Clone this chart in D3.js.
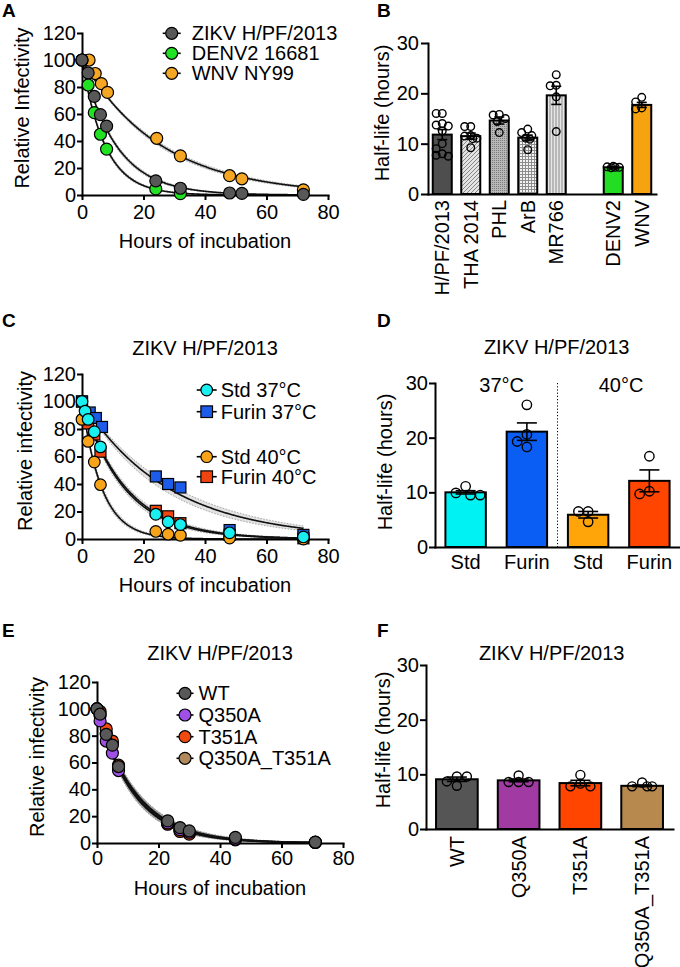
<!DOCTYPE html>
<html><head><meta charset="utf-8">
<script src="https://cdn.jsdelivr.net/npm/d3@7"></script>
<style>body{margin:0;background:#fff}</style>
</head><body>
<svg id="chart" width="680" height="967"></svg>
<script>
// ---------------- DATA ----------------
// Panel A
const seriesA = ["ZIKV H/PF/2013", "DENV2 16681", "WNV NY99"];
const hoursA_zikv = [0, 2, 4, 6, 8, 24, 32, 48, 52, 72];
const infA_zikv   = [100, 90.5, 73, 59.5, 51, 10.5, 5, 1.5, 1.2, 0.5];
const hoursA_denv = [0, 2, 4, 6, 8, 24, 32];
const infA_denv   = [100, 81.5, 61, 45, 34, 4.5, 1];
const hoursA_wnv  = [0, 2.3, 4.3, 6.3, 8.3, 24.3, 32, 48, 52, 72];
const infA_wnv    = [100, 100, 90, 82.5, 76, 42, 29, 14.3, 12, 3.8];
const halfA = [7.7, 5.2, 17.8];

// Panel B
const catB   = ["H/PF/2013", "THA 2014", "PHL", "ArB", "MR766", "DENV2", "WNV"];
const meanB  = [11.8, 11.5, 14.6, 11.2, 19.6, 5.3, 17.7];
const semB   = [1.0, 0.6, 0.7, 0.5, 1.8, 0.15, 0.5];
const ptsB = [
  [16, 16, 14, 13.7, 13.5, 12.5, 10, 9, 8, 7.7, 7.5],
  [13.4, 13.4, 11.6, 11.1, 11, 9.2, 11.5],
  [15.8, 15.7, 15, 12.2, 14.4],
  [12.9, 12.2, 11.6, 11.1, 10.9, 8.8],
  [23.7, 21.6, 21.5, 19.3, 12.4],
  [5.5, 5.4, 5.3, 5.3, 5.2],
  [19.2, 18.3, 17.1, 16.9]
];

// Panel C
const seriesC = ["Std 37°C", "Furin 37°C", "Std 40°C", "Furin 40°C"];
const hoursC_std37 = [0, 1, 2, 4, 6, 24, 28, 32, 48, 72];
const infC_std37   = [100, 93, 87, 78, 67, 18, 12.5, 10.5, 4.5, 1.5];
const hoursC_fur37 = [0, 2.5, 4.5, 6.5, 24, 28, 32, 48, 72];
const infC_fur37   = [100, 92, 88, 81.5, 45.5, 40, 37.5, 6.5, 3];
const hoursC_std40 = [0, 2, 4, 6, 24, 28, 32, 48, 72];
const infC_std40   = [87, 71, 56, 39.5, 5.5, 3.5, 2.7, 0.7, 0];
const hoursC_fur40 = [0, 2, 4, 6, 24, 28, 32, 48, 72];
const infC_fur40   = [100, 84, 76, 63.5, 20.5, 16.5, 11.5, 3, 0.5];
const halfC = [10.0, 19.5, 4.5, 9.6];

// Panel D
const catD   = ["Std 37", "Furin 37", "Std 40", "Furin 40"];
const labelD = ["Std", "Furin", "Std", "Furin"];
const meanD  = [10.0, 21.1, 5.9, 12.1];
const semD   = [0.3, 1.6, 0.6, 2.0];
const ptsD = [[9.9, 9.5, 9.5, 11.1], [26, 20.6, 18.3, 19.3], [6.5, 4.6, 6.5], [16.6, 9.7, 10.2]];

// Panel E
const seriesE = ["WT", "Q350A", "T351A", "Q350A_T351A"];
const hoursE  = [0, 1, 3, 5, 7, 23, 27, 30, 45, 71];
const infE_wt    = [100, 96, 81, 73, 57, 16.5, 11.5, 9, 4.2, 0.7];
const infE_q350a = [100, 91, 76, 67, 54, 15, 10, 8, 3, 0.5];
const infE_t351a = [100, 98, 85, 76, 58, 14, 8.6, 6.6, 2.4, 0.4];
const infE_dbl   = [100, 95, 82, 74, 56, 14.5, 9.5, 7.5, 2.8, 0.5];
const halfE = [8.9, 8.7, 8.4, 8.2];

// Panel F
const catF  = ["WT", "Q350A", "T351A", "Q350A_T351A"];
const meanF = [9.1, 8.9, 8.4, 7.9];
const semF  = [0.4, 0.25, 0.5, 0.15];
const ptsF = [[9.6, 7.9, 8.7, 9.6], [8.6, 8.6, 8.6, 9.8], [8.3, 9.9, 7.8, 7.8], [7.8, 7.8, 7.8, 8.5]];

const ticksXhours = [0, 20, 40, 60, 80];
const ticksYinf = [0, 20, 40, 60, 80, 100, 120];
const ticksYhalf = [0, 10, 20, 30];

// ---------------- DRAWING ----------------
const FONT = "'Liberation Sans', Arial, Helvetica, sans-serif";
const svg = d3.select("#chart");
const defs = svg.append("defs");

// patterns for panel B
(function(){
  let p = defs.append("pattern").attr("id","pTHA").attr("width",4).attr("height",4).attr("patternUnits","userSpaceOnUse");
  p.append("rect").attr("width",4).attr("height",4).attr("fill","#e4e4e4");
  p.append("path").attr("d","M-1,1 L1,-1 M0,4 L4,0 M3,5 L5,3").attr("stroke","#858585").attr("stroke-width",1);
  p = defs.append("pattern").attr("id","pPHL").attr("width",2).attr("height",2).attr("patternUnits","userSpaceOnUse");
  p.append("rect").attr("width",2).attr("height",2).attr("fill","#b8b8b8");
  p.append("rect").attr("width",1).attr("height",1).attr("fill","#7a7a7a");
  p = defs.append("pattern").attr("id","pArB").attr("width",3).attr("height",3).attr("patternUnits","userSpaceOnUse");
  p.append("rect").attr("width",3).attr("height",3).attr("fill","#f4f4f4");
  p.append("path").attr("d","M0,0.5 H3 M0.5,0 V3").attr("stroke","#8d8d8d").attr("stroke-width",1);
  p = defs.append("pattern").attr("id","pMR").attr("width",3).attr("height",3).attr("patternUnits","userSpaceOnUse");
  p.append("rect").attr("width",3).attr("height",3).attr("fill","#e6e6e6");
  p.append("path").attr("d","M1,0 V3").attr("stroke","#8a8a8a").attr("stroke-width",1);
})();

function styleAxis(a){
  a.attr("font-size",20).attr("font-family",FONT);
  a.select(".domain").attr("stroke","#000").attr("stroke-width",2).attr("stroke-linecap","square");
  a.selectAll(".tick line").attr("stroke","#000").attr("stroke-width",2);
  a.selectAll(".tick text").attr("fill","#000");
}
function text(x,y,s,opt={}){
  return svg.append("text").attr("x",x).attr("y",y).attr("dy",opt.dy||"0.35em")
    .attr("text-anchor",opt.anchor||"middle").attr("font-family",FONT)
    .attr("font-size",opt.size||20).attr("font-weight",opt.weight||"normal").attr("fill","#000").text(s);
}
function vtext(x,y,s){
  svg.append("text").attr("transform",`translate(${x},${y}) rotate(-90)`).attr("dy","0.35em")
    .attr("text-anchor","middle").attr("font-family",FONT).attr("font-size",20).attr("fill","#000").text(s);
}
function linearAxes(x,y,xt,yt,xpad){
  const ax = svg.append("g").attr("transform",`translate(0,${y(0)})`)
    .call(d3.axisBottom(x).tickValues(xt).tickSize(5).tickPadding(xpad).tickSizeOuter(0));
  styleAxis(ax);
  const ay = svg.append("g").attr("transform",`translate(${x(0)},0)`)
    .call(d3.axisLeft(y).tickValues(yt).tickSize(5).tickPadding(1).tickSizeOuter(0));
  styleAxis(ay);
}
function drawFit(x,y,half,bw,tMax,bandFill){
  const ts = d3.range(0,tMax+0.001,0.25);
  const f = (t,h)=>100*Math.pow(0.5,t/h);
  const area = d3.area().x(t=>x(t)).y0(t=>y(f(t,half*(1-bw)))).y1(t=>y(f(t,half*(1+bw))));
  svg.append("path").datum(ts).attr("d",area).attr("fill",bandFill)
    .attr("stroke","#8a8a8a").attr("stroke-width",0.8).attr("stroke-dasharray","1.5,1.5");
  return ()=> svg.append("path").datum(ts).attr("d",d3.line().x(t=>x(t)).y(t=>y(f(t,half))))
    .attr("fill","none").attr("stroke","#111").attr("stroke-width",1.6);
}
function marker(g,cx,cy,shape,color,r){
  if(shape==="square"){
    g.append("rect").attr("x",cx-r).attr("y",cy-r).attr("width",2*r).attr("height",2*r)
      .attr("fill",color).attr("stroke","#000").attr("stroke-width",1.2);
  } else {
    g.append("circle").attr("cx",cx).attr("cy",cy).attr("r",r)
      .attr("fill",color).attr("stroke","#000").attr("stroke-width",1.2);
  }
}
function drawPts(x,y,ts,vs,shape,color,r){
  const g = svg.append("g");
  ts.forEach((t,i)=>marker(g,x(t),y(vs[i]),shape,color,r));
}
function legendItem(xm,yr,shape,color,r,label,half,gap){
  svg.append("line").attr("x1",xm-half).attr("x2",xm+half).attr("y1",yr).attr("y2",yr)
    .attr("stroke","#000").attr("stroke-width",1.6);
  marker(svg.append("g"),xm,yr,shape,color,r);
  text(xm+half+gap,yr,label,{anchor:"start"});
}
// deterministic scatter layout inside a bar (points spread to reduce overlap)
function swarm(vals,xc,y,r,maxOff){
  const placed=[]; const out=new Array(vals.length);
  const order = vals.map((v,i)=>i).sort((a,b)=>vals[b]-vals[a]);
  const nPos = 7;
  const cands = d3.range(nPos).map(k=>-maxOff + 2*maxOff*k/(nPos-1))
    .sort((a,b)=>Math.abs(a)-Math.abs(b));
  for(const i of order){
    const cy=y(vals[i]);
    let best=cands[0], bestD=-1;
    for(const off of cands){
      const cx = xc+off;
      const d = placed.length? d3.min(placed,p=>Math.hypot(p[0]-cx,p[1]-cy)) : Infinity;
      if(d>=r*1.9){ best=off; bestD=d; break; }
      if(d>bestD+0.5){ bestD=d; best=off; }
    }
    const p=[xc+best,cy]; placed.push(p); out[i]=p;
  }
  return out;
}
function barPanel(x,y,cats,means,sems,pts,fills,r,capW,spread){
  const g = svg.append("g");
  cats.forEach((c,i)=>{
    const x0 = x(c), w = x.bandwidth(), xc = x0+w/2;
    g.append("rect").attr("x",x0).attr("y",y(means[i])).attr("width",w).attr("height",y(0)-y(means[i]))
      .attr("fill",fills[i]).attr("stroke","#000").attr("stroke-width",2);
    g.append("line").attr("x1",xc).attr("x2",xc).attr("y1",y(means[i]-sems[i])).attr("y2",y(means[i]+sems[i]))
      .attr("stroke","#000").attr("stroke-width",1.6);
    [means[i]-sems[i], means[i]+sems[i]].forEach(v=>{
      g.append("line").attr("x1",xc-capW/2).attr("x2",xc+capW/2).attr("y1",y(v)).attr("y2",y(v))
        .attr("stroke","#000").attr("stroke-width",1.6);
    });
    swarm(pts[i],xc,y,r,w*spread).forEach(p=>{
      g.append("circle").attr("cx",p[0]).attr("cy",p[1]).attr("r",r)
        .attr("fill","none").attr("stroke","#000").attr("stroke-width",1.4);
    });
  });
}

// ---- Panel letters ----
[["A",2,17],["B",377,17],["C",2,327],["D",377,327],["E",2,637],["F",377,637]].forEach(d=>{
  text(d[1],d[2],d[0],{anchor:"start",dy:"0",size:19,weight:"bold"});
});

// ---- Panel A ----
{
  const x = d3.scaleLinear().domain([0,80]).range([82,328]);
  const y = d3.scaleLinear().domain([0,120]).range([195,33]);
  const cols = ["#585858","#22e022","#f5a623"];
  const lines = halfA.map(h=>drawFit(x,y,h,0.04,72,"#dcdcdc"));
  lines.forEach(l=>l());
  linearAxes(x,y,ticksXhours,ticksYinf,5);
  drawPts(x,y,hoursA_wnv,infA_wnv,"circle",cols[2],6);
  drawPts(x,y,hoursA_denv,infA_denv,"circle",cols[1],6);
  drawPts(x,y,hoursA_zikv,infA_zikv,"circle",cols[0],6);
  vtext(22,108,"Relative Infectivity");
  text(205,241,"Hours of incubation");
  [33.3,53.3,73.3].forEach((yy,i)=>legendItem(171.7,yy,"circle",cols[i],6,seriesA[i],9,11));
}

// ---- Panel B ----
{
  const x = d3.scaleBand().domain(["H/PF/2013","THA 2014","PHL","ArB","MR766","gap","DENV2","WNV"])
    .range([428,656]).paddingInner(0.333).paddingOuter(0.1667);
  const y = d3.scaleLinear().domain([0,30]).range([194,43]);
  const fills = ["#4e4e4e","url(#pTHA)","url(#pPHL)","url(#pArB)","url(#pMR)","#22dd22","#f7a30f"];
  barPanel(x,y,catB,meanB,semB,ptsB,fills,3.8,10,0.32);
  const ax = svg.append("g").attr("transform",`translate(0,${y(0)})`)
    .call(d3.axisBottom(x).tickSize(0).tickSizeOuter(0).tickFormat(d=>d==="gap"?"":d));
  styleAxis(ax);
  ax.selectAll(".tick text").attr("transform","rotate(-90)").attr("text-anchor","end")
    .attr("x",-6).attr("y",0).attr("dy","0.35em");
  const ay = svg.append("g").attr("transform",`translate(428,0)`)
    .call(d3.axisLeft(y).tickValues(ticksYhalf).tickSize(7).tickPadding(2).tickSizeOuter(0));
  styleAxis(ay);
  vtext(382,113,"Half-life (hours)");
}

// ---- Panel C ----
{
  const x = d3.scaleLinear().domain([0,80]).range([82,328]);
  const y = d3.scaleLinear().domain([0,120]).range([539,374]);
  const cols = ["#19eef0","#1c5ce8","#f8a41a","#f04510"];
  const shapes = ["circle","square","circle","square"];
  const bws = [0.06,0.09,0.06,0.06];
  const lines = halfC.map((h,i)=>drawFit(x,y,h,bws[i],72,"#e2e2e2"));
  lines.forEach(l=>l());
  linearAxes(x,y,ticksXhours,ticksYinf,5);
  drawPts(x,y,hoursC_fur40,infC_fur40,"square",cols[3],5.5);
  drawPts(x,y,hoursC_std40,infC_std40,"circle",cols[2],5.8);
  drawPts(x,y,hoursC_fur37,infC_fur37,"square",cols[1],5.5);
  drawPts(x,y,hoursC_std37,infC_std37,"circle",cols[0],5.8);
  text(205,348,"ZIKV H/PF/2013");
  vtext(25,451,"Relative infectivity");
  text(205,585,"Hours of incubation");
  [390,411.7,456.7,476.7].forEach((yy,i)=>legendItem(206.7,yy,shapes[i],cols[i],5.8,seriesC[i],10,4));
}

// ---- Panel D ----
{
  const x = d3.scaleBand().domain(catD).range([435,680]).paddingInner(0.34).paddingOuter(0.17);
  const y = d3.scaleLinear().domain([0,30]).range([547,383]);
  const fills = ["#00f2f2","#0a5ef3","#ffa50a","#ff4500"];
  barPanel(x,y,catD,meanD,semD,ptsD,fills,4.7,20,0.36);
  const ax = svg.append("g").attr("transform",`translate(0,${y(0)})`)
    .call(d3.axisBottom(x).tickSize(0).tickPadding(8).tickSizeOuter(0).tickFormat((d,i)=>labelD[i]));
  styleAxis(ax);
  const ay = svg.append("g").attr("transform",`translate(435,0)`)
    .call(d3.axisLeft(y).tickValues(ticksYhalf).tickSize(6).tickPadding(1).tickSizeOuter(0));
  styleAxis(ay);
  const xm = (x("Furin 37")+x.bandwidth()+x("Std 40"))/2;
  svg.append("line").attr("x1",xm).attr("x2",xm).attr("y1",y(30)).attr("y2",y(0))
    .attr("stroke","#000").attr("stroke-width",1).attr("stroke-dasharray","1.2,2");
  text(556.7,347,"ZIKV H/PF/2013");
  text(501.7,385,"37°C");
  text(621,385,"40°C");
  vtext(385,462,"Half-life (hours)");
}

// ---- Panel E ----
{
  const x = d3.scaleLinear().domain([0,80]).range([97,343]);
  const y = d3.scaleLinear().domain([0,120]).range([843,682]);
  const cols = ["#585858","#a050e6","#f04a10","#b08a5c"];
  const lines = halfE.map(h=>drawFit(x,y,h,0.07,71,"#a8a8a8"));
  lines.forEach(l=>l());
  linearAxes(x,y,ticksXhours,ticksYinf,3);
  drawPts(x,y,hoursE,infE_dbl,"circle",cols[3],6);
  drawPts(x,y,hoursE,infE_t351a,"circle",cols[2],6);
  drawPts(x,y,hoursE,infE_q350a,"circle",cols[1],6);
  drawPts(x,y,hoursE,infE_wt,"circle",cols[0],6);
  text(220,653,"ZIKV H/PF/2013");
  vtext(37,757,"Relative infectivity");
  text(220,888,"Hours of incubation");
  [693.3,715,736.7,758.3].forEach((yy,i)=>legendItem(185,yy,"circle",cols[i],6,seriesE[i],8.5,5));
}

// ---- Panel F ----
{
  const x = d3.scaleBand().domain(catF).range([426,673]).paddingInner(0.325).paddingOuter(0.1625);
  const y = d3.scaleLinear().domain([0,30]).range([829,665]);
  const fills = ["#555555","#a13aa3","#ff4500","#b8894f"];
  barPanel(x,y,catF,meanF,semF,ptsF,fills,4.5,20,0.36);
  const ax = svg.append("g").attr("transform",`translate(0,${y(0)})`)
    .call(d3.axisBottom(x).tickSize(0).tickSizeOuter(0));
  styleAxis(ax);
  ax.selectAll(".tick text").attr("transform","rotate(-90)").attr("text-anchor","end")
    .attr("x",-7).attr("y",0).attr("dy","0.35em");
  const ay = svg.append("g").attr("transform",`translate(426,0)`)
    .call(d3.axisLeft(y).tickValues(ticksYhalf).tickSize(6).tickPadding(1).tickSizeOuter(0));
  styleAxis(ay);
  text(551.7,653,"ZIKV H/PF/2013");
  vtext(383,740,"Half-life (hours)");
}
</script>
</body></html>
